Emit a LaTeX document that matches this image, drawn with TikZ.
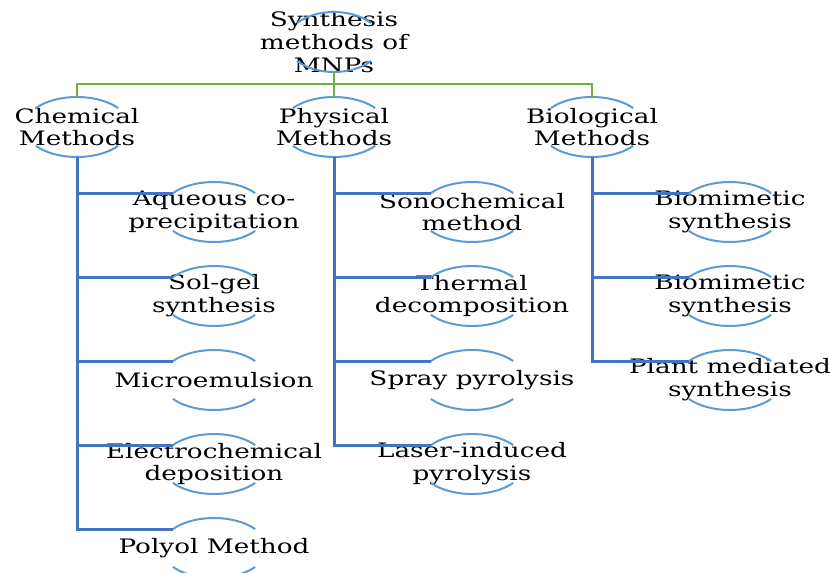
\documentclass[tikz,border=0pt]{standalone}
\usepackage{fontspec}
\usepackage{tikz}
\usetikzlibrary{calc}
\newfontfamily\chartfont[FakeStretch=1.32]{DejaVu Serif}
\definecolor{ringblue}{RGB}{91,155,213}
\definecolor{trunkblue}{RGB}{68,114,196}
\definecolor{branchgreen}{RGB}{112,173,71}

\tikzset{
  label/.style={align=center, inner sep=0pt, font=\chartfont\fontsize{17}{19.5}\selectfont},
  ringarc/.style={ringblue, line width=0.6mm},
  trunk/.style={trunkblue, line width=0.9mm},
  branch/.style={branchgreen, line width=0.75mm}
}

\begin{document}
\begin{tikzpicture}[x=0.3mm, y=-0.3mm]
\useasboundingbox (0,0) rectangle (830,573);

% Root
\node[label] (root) at (334,42) {Synthesis\\methods of\\MNPs};

% Method groups
\node[label] (chem) at (77,127) {Chemical\\Methods};
\node[label] (phys) at (334,127) {Physical\\Methods};
\node[label] (bio) at (592,127) {Biological\\Methods};

% Chemical methods
\node[label] (aq) at (214,212) {Aqueous co-\\precipitation};
\node[label] (sg) at (214,296) {Sol-gel\\synthesis};
\node[label] (me) at (214,380) {Microemulsion};
\node[label] (ec) at (214,464) {Electrochemical\\deposition};
\node[label] (po) at (214,548) {Polyol Method};

% Physical methods
\node[label] (so) at (472,212) {Sonochemical\\method};
\node[label] (th) at (472,296) {Thermal\\decomposition};
\node[label] (sp) at (472,380) {Spray pyrolysis};
\node[label] (la) at (472,464) {Laser-induced\\pyrolysis};

% Biological methods
\node[label] (bm) at (730,212) {Biomimetic\\synthesis};
\node[label] (bn) at (730,296) {Biomimetic\\synthesis};
\node[label] (pm) at (730,380) {Plant mediated\\synthesis};

% Rings round the labels
\draw[ringarc] (root.center) ++(141:14.3mm and 9mm) arc[start angle=141, end angle=39, x radius=14.3mm, y radius=9mm]
  (root.center) ++(219:14.3mm and 9mm) arc[start angle=219, end angle=321, x radius=14.3mm, y radius=9mm];
\foreach \nm in {chem,phys,bio,aq,sg,me,ec,po,so,th,sp,la,bm,bn,pm} {
  \draw[ringarc] (\nm.center) ++(141:15.9mm and 9mm) arc[start angle=141, end angle=39, x radius=15.9mm, y radius=9mm]
    (\nm.center) ++(219:15.9mm and 9mm) arc[start angle=219, end angle=321, x radius=15.9mm, y radius=9mm];
}

% Green branches
\draw[branch] (root.center) ++(0,-9mm) -- ++(0,-3.6mm) coordinate (bar);
\foreach \c in {chem,phys,bio} {
  \draw[branch] (bar) -| ($(\c.center)+(0,9mm)$);
}

% Blue trunks
\foreach \nm/\up in {aq/chem,sg/chem,me/chem,ec/chem,po/chem,so/phys,th/phys,sp/phys,la/phys,bm/bio,bn/bio,pm/bio} {
  \draw[trunk] (\up.center) ++(0,-9mm) |- ($(\nm.center)+(141:15.9mm and 9mm)$);
}

\end{tikzpicture}
\end{document}
